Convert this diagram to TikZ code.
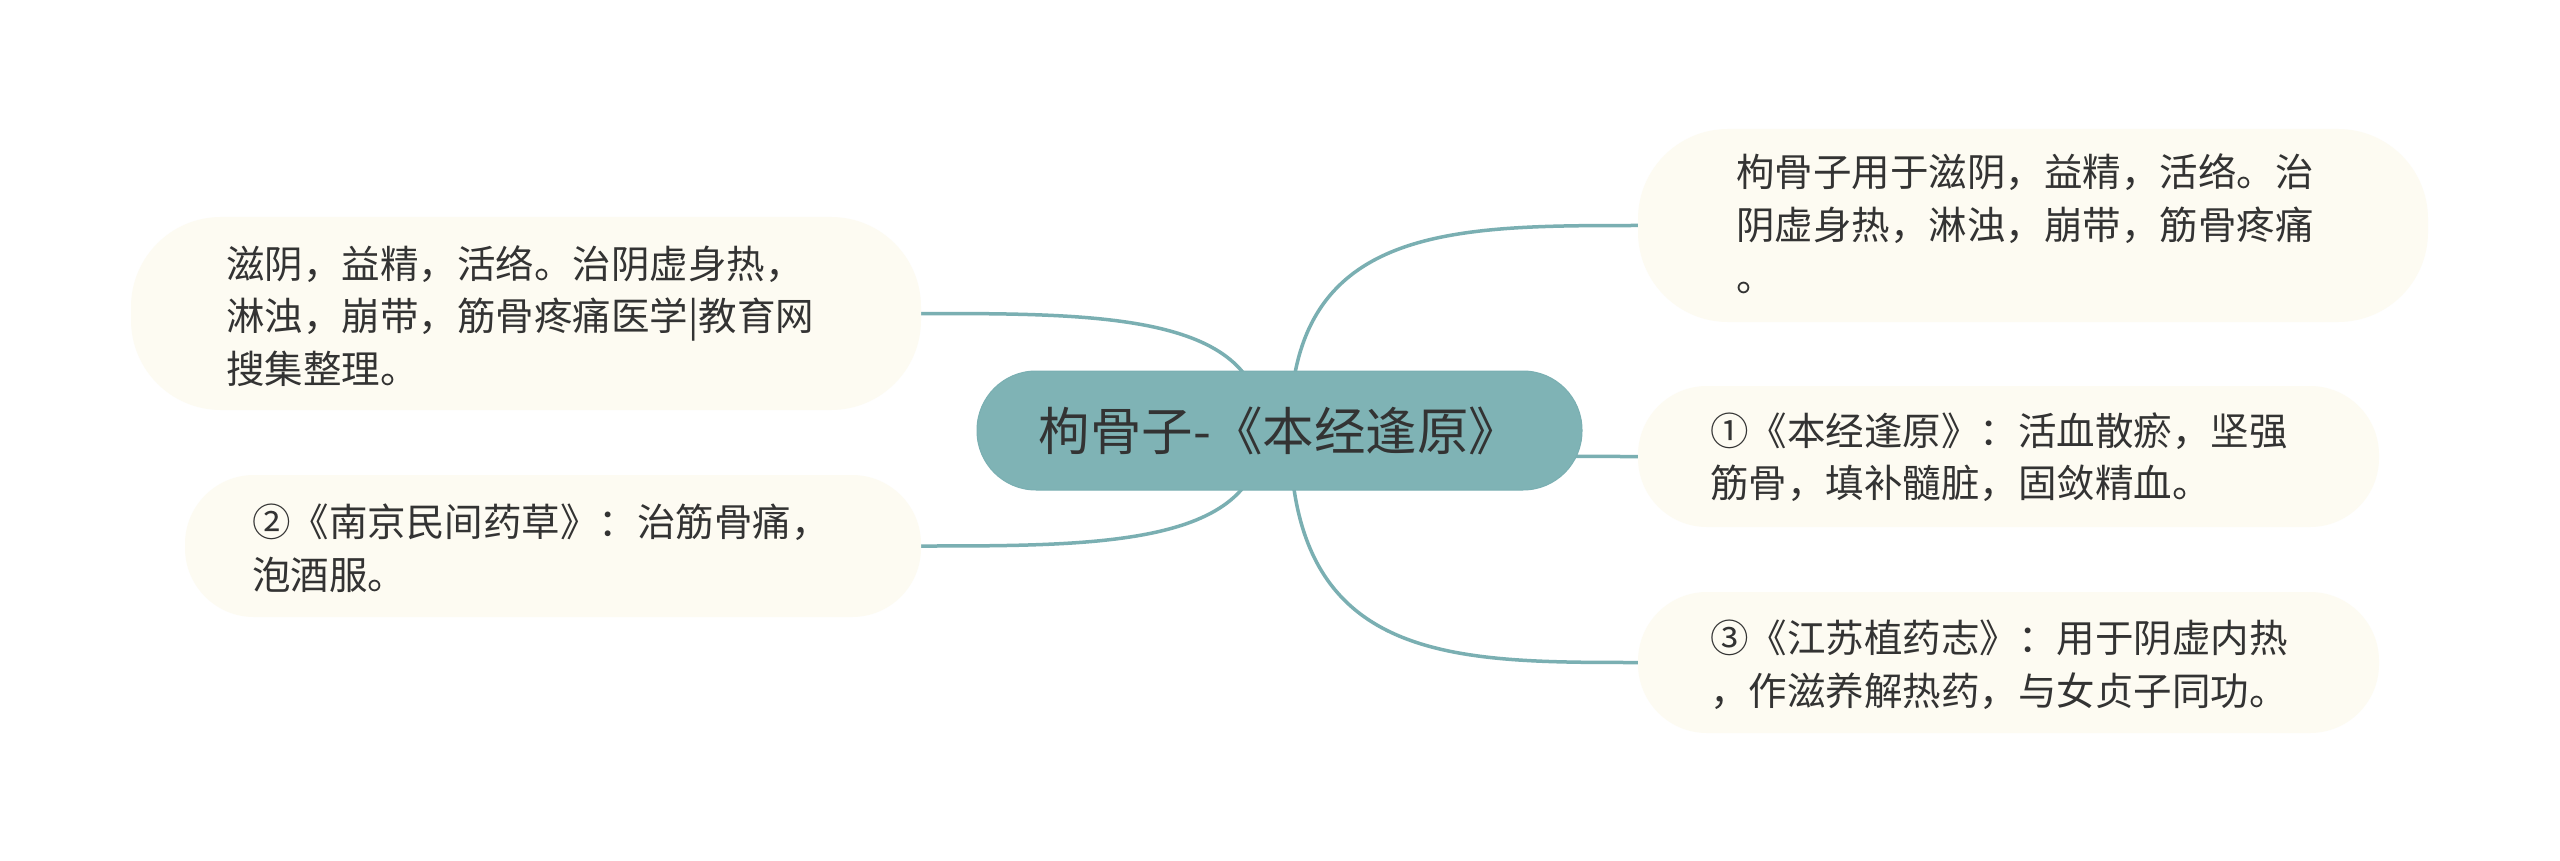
\documentclass[tikz,border=0pt]{standalone}
\usepackage{fontspec}
\setmainfont{Noto Sans CJK SC}
\usetikzlibrary{calc}
\definecolor{tealc}{RGB}{127,179,181}
\definecolor{tealline}{RGB}{122,175,178}
\definecolor{cream}{RGB}{253,251,242}
\definecolor{txt}{RGB}{51,51,51}
\pgfdeclarelayer{bg}
\pgfdeclarelayer{canvas}
\pgfsetlayers{canvas,bg,main}
\begin{document}
\begin{tikzpicture}[x=1pt,y=-1pt,
  leaf/.style={fill=cream, draw=none, inner sep=0pt},
  leaftext/.style={anchor=west, align=left, inner sep=0pt, text=txt,
    font=\fontsize{38.5}{52.5}\selectfont},
  rootbox/.style={fill=tealc, draw=tealline, line width=1pt, inner sep=0pt,
    minimum width=605pt, minimum height=119pt, rounded corners=59pt,
    text=txt, font=\fontsize{51.5}{60}\selectfont},
  conn/.style={draw=tealline, line width=3.5pt}]
\begin{pgfonlayer}{canvas}
\useasboundingbox[fill=white] (0,0) rectangle (2560,861);
\end{pgfonlayer}

% central topic
\node[rootbox] (root) at (1279.5,430.5) {枸骨子-《本经逢原》};

% leaf boxes
\node[leaf, minimum width=790pt, minimum height=193pt, rounded corners=90pt] (lt) at (526,313.5) {};
\node[leaf, minimum width=736pt, minimum height=142pt, rounded corners=69pt] (lb) at (553,546) {};
\node[leaf, minimum width=790pt, minimum height=193pt, rounded corners=90pt] (rt) at (2033,225.5) {};
\node[leaf, minimum width=741pt, minimum height=141pt, rounded corners=69pt] (rm) at (2008.5,456.5) {};
\node[leaf, minimum width=741pt, minimum height=141pt, rounded corners=69pt] (rb) at (2008.5,662.5) {};

% leaf texts
\node[leaftext] (ltt) at (226,316) {滋阴，益精，活络。治阴虚身热，\\淋浊，崩带，筋骨疼痛医学|教育网\\搜集整理。};
\node[leaftext] (lbt) at (252,548) {②《南京民间药草》：治筋骨痛，\\泡酒服。};
\node[leaftext] (rtt) at (1736,224) {枸骨子用于滋阴，益精，活络。治\\阴虚身热，淋浊，崩带，筋骨疼痛\\。};
\node[leaftext] (rmt) at (1710,457) {①《本经逢原》：活血散瘀，坚强\\筋骨，填补髓脏，固敛精血。};
\node[leaftext] (rbt) at (1710,665) {③《江苏植药志》：用于阴虚内热\\，作滋养解热药，与女贞子同功。};

% connectors
\coordinate (rootR) at ($(root.center)+(10.5,0)$);
\coordinate (rootL) at ($(root.center)+(-17.5,0)$);
\begin{pgfonlayer}{bg}
\draw[conn] (rootR) .. controls (rootR |- rt.west) and ($(rt.west)+(-188,0)$) .. (rt.west);
\draw[conn] (rootR) .. controls ($(rootR)+(110,26)$) and ($(rm.west)+(-138,0)$) .. (rm.west);
\draw[conn] (rootR) .. controls (rootR |- rb.west) and ($(rb.west)+(-188,0)$) .. (rb.west);
\draw[conn] (rootL) .. controls (rootL |- lt.east) and ($(lt.east)+(179,0)$) .. (lt.east);
\draw[conn] (rootL) .. controls (rootL |- lb.east) and ($(lb.east)+(179,0)$) .. (lb.east);
\end{pgfonlayer}
\end{tikzpicture}
\end{document}
